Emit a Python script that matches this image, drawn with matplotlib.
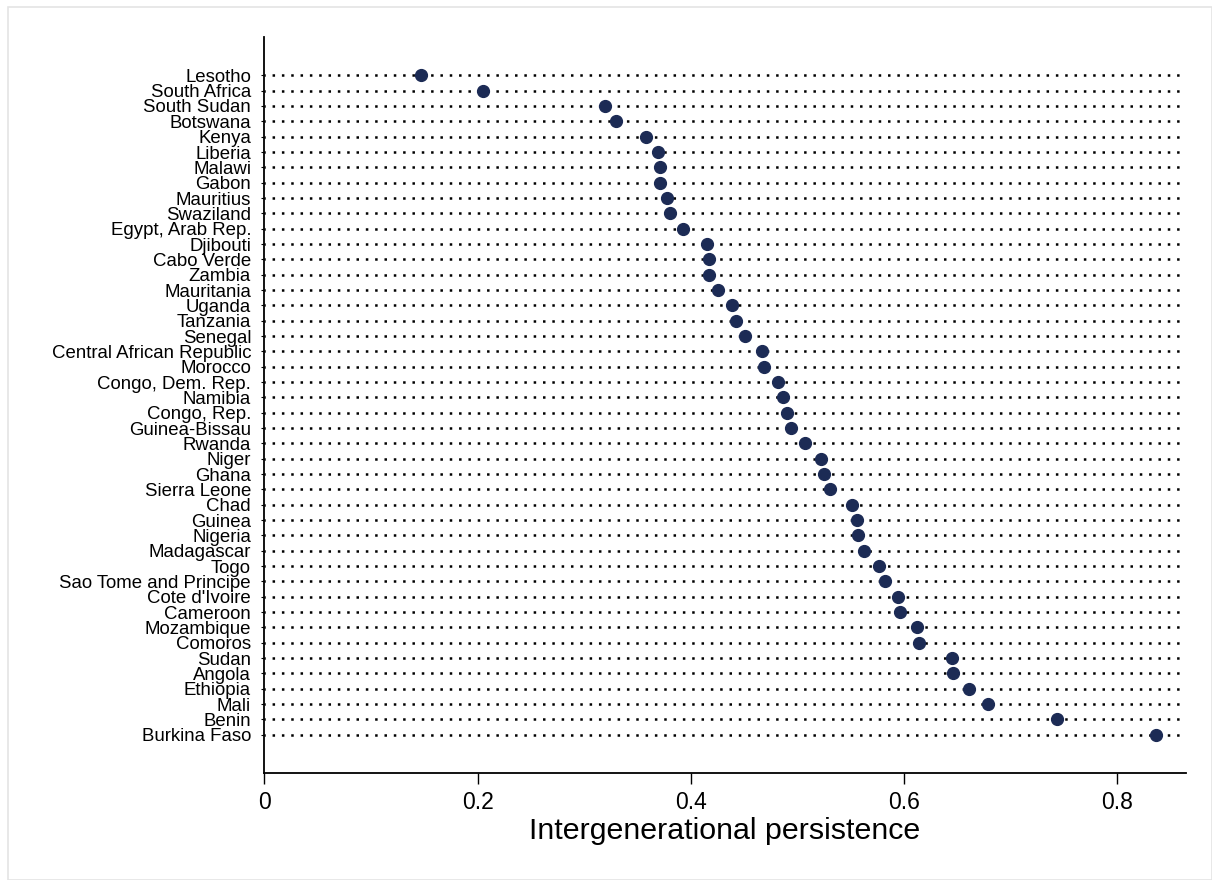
import matplotlib
matplotlib.use("Agg")
import matplotlib.pyplot as plt
from matplotlib.patches import Rectangle

plt.rcParams['font.family'] = ['Liberation Sans', 'DejaVu Sans']

countries = [
    "Lesotho", "South Africa", "South Sudan", "Botswana", "Kenya", "Liberia",
    "Malawi", "Gabon", "Mauritius", "Swaziland", "Egypt, Arab Rep.", "Djibouti",
    "Cabo Verde", "Zambia", "Mauritania", "Uganda", "Tanzania", "Senegal",
    "Central African Republic", "Morocco", "Congo, Dem. Rep.", "Namibia",
    "Congo, Rep.", "Guinea-Bissau", "Rwanda", "Niger", "Ghana", "Sierra Leone",
    "Chad", "Guinea", "Nigeria", "Madagascar", "Togo", "Sao Tome and Principe",
    "Cote d'Ivoire", "Cameroon", "Mozambique", "Comoros", "Sudan", "Angola",
    "Ethiopia", "Mali", "Benin", "Burkina Faso",
]
persistence = [
    0.147, 0.205, 0.320, 0.330, 0.358, 0.369,
    0.371, 0.371, 0.378, 0.381, 0.393, 0.415,
    0.417, 0.417, 0.426, 0.439, 0.442, 0.451,
    0.467, 0.469, 0.482, 0.487, 0.490, 0.494,
    0.507, 0.522, 0.525, 0.531,
    0.551, 0.556, 0.557, 0.563, 0.577, 0.582,
    0.594, 0.596, 0.612, 0.614, 0.645, 0.646,
    0.661, 0.679, 0.744, 0.836,
]
xticks = [0, 0.2, 0.4, 0.6, 0.8]
xtick_labels = ["0", "0.2", "0.4", "0.6", "0.8"]
xlabel = "Intergenerational persistence"

W, H = 1212, 880
fig = plt.figure(figsize=(W / 100, H / 100), dpi=100)
fig.patch.set_facecolor("white")
fig.patches.append(Rectangle((8 / W, 0), (W - 8) / W, (H - 7) / H,
                             transform=fig.transFigure, fill=False,
                             edgecolor="#e4e4e4", linewidth=1.2, zorder=0))

left, right = 264.3 / W, 1185.7 / W
top, bottom = 1 - 37 / H, 1 - 773 / H
ax = fig.add_axes([left, bottom, right - left, top - bottom])

xmin, xmax = 0.0, 0.8643
ypos = list(range(len(countries)))

for y in ypos:
    ax.plot([xmin, xmax], [y, y], color="black", linewidth=1.8,
            linestyle=(0.5, (1, 2.73)), dash_capstyle="butt", zorder=1)

ax.plot(persistence, ypos, linestyle="none", marker="o", markersize=8.5,
        markerfacecolor="#1c2b55", markeredgecolor="#1c2b55", zorder=3)

ax.set_xlim(xmin, xmax)
ax.set_ylim(45.5, -2.5)
ax.set_yticks(ypos)
ax.set_yticklabels(countries, fontsize=13.4)
ax.set_xticks(xticks)
ax.set_xticklabels(xtick_labels, fontsize=16.5)
ax.set_xlabel(xlabel, fontsize=21.9, labelpad=2)

for s in ["top", "right"]:
    ax.spines[s].set_visible(False)
for s in ["left", "bottom"]:
    ax.spines[s].set_linewidth(1.3)
    ax.spines[s].set_color("black")

ax.tick_params(axis="x", length=8, width=1.0, pad=5)
ax.tick_params(axis="y", length=2.5, width=0.8, pad=7)

fig.savefig("out.png", dpi=100, facecolor="white")
